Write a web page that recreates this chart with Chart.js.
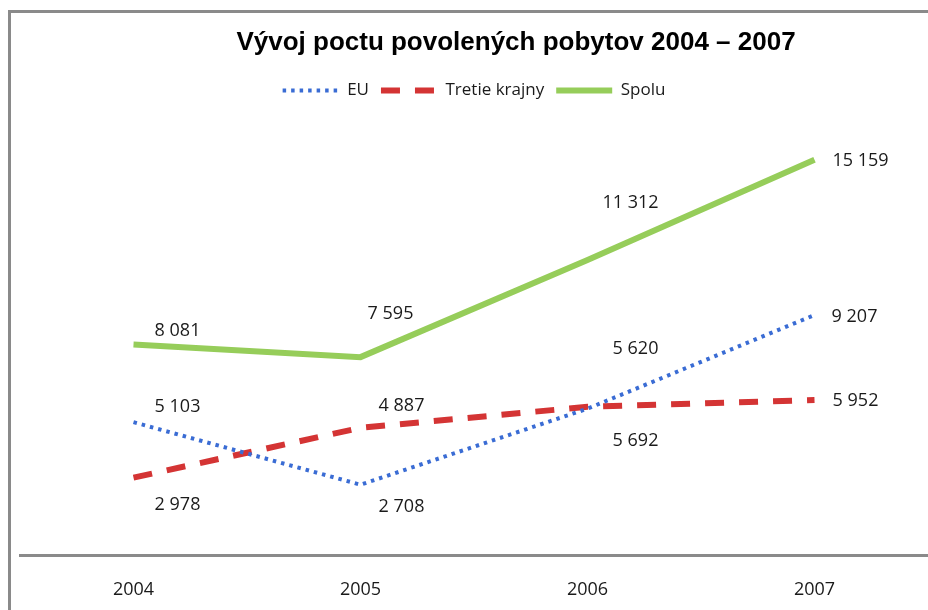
<!DOCTYPE html>
<html>
<head>
<meta charset="utf-8">
<script src="https://cdn.jsdelivr.net/npm/chart.js@4/dist/chart.umd.min.js"></script>
<style>
  html, body { margin: 0; padding: 0; background: #fff; overflow: hidden; }
  #wrap { position: relative; width: 928px; height: 610px; }
  canvas { display: block; }
</style>
</head>
<body>
<div id="wrap"><canvas id="c" width="928" height="610"></canvas></div>
<script>
// ---- data ----
const categories = ['2004', '2005', '2006', '2007'];
const seriesNames = ['EU', 'Tretie krajny', 'Spolu'];
const euValues = [5103, 2708, 5620, 9207];
const tretieValues = [2978, 4887, 5692, 5952];
const spoluValues = [8081, 7595, 11312, 15159];
const titleText = 'Vývoj poctu povolených pobytov 2004 – 2007';

// ---- label placement (offsets from point, px) ----
const euLabelOffsets = [[44, -15], [41, 22], [48, -60], [40, 2]];
const tretieLabelOffsets = [[44, 27], [41, -22], [48, 34], [41, 1]];
const spoluLabelOffsets = [[44, -14], [30, -43], [43, -57], [46, 1]];

function fmt(v) {
  return String(v).replace(/\B(?=(\d{3})+(?!\d))/g, ' ');
}

const frameAndTitle = {
  id: 'frameAndTitle',
  beforeDraw(chart) {
    const ctx = chart.ctx;
    ctx.save();
    ctx.fillStyle = '#ffffff';
    ctx.fillRect(0, 0, chart.width, chart.height);
    ctx.strokeStyle = '#8a8a8a';
    ctx.lineWidth = 3;
    ctx.strokeRect(9.5, 11.5, 1000, 1000);
    ctx.fillStyle = '#000000';
    ctx.font = 'bold 26px "Liberation Sans", Arial, sans-serif';
    ctx.textAlign = 'center';
    ctx.textBaseline = 'alphabetic';
    ctx.fillText(titleText, 516, 50);
    ctx.restore();
  }
};

// draws the dashed/dotted line samples at the legend's own item positions
const legendSamples = {
  id: 'legendSamples',
  afterDraw(chart) {
    const legend = chart.legend;
    if (!legend || !legend.legendHitBoxes) return;
    const ctx = chart.ctx;
    const boxW = legend.options.labels.boxWidth;
    ctx.save();
    legend.legendHitBoxes.forEach((hb, i) => {
      const ds = chart.data.datasets[i];
      const y = hb.top + hb.height / 2;
      ctx.beginPath();
      ctx.strokeStyle = ds.borderColor;
      ctx.lineWidth = ds.borderWidth;
      ctx.setLineDash(ds.borderDash || []);
      ctx.moveTo(hb.left, y);
      ctx.lineTo(hb.left + boxW, y);
      ctx.stroke();
    });
    ctx.restore();
  }
};

const valueLabels = {
  id: 'valueLabels',
  afterDatasetsDraw(chart) {
    const ctx = chart.ctx;
    ctx.save();
    ctx.font = '18px "Open Sans", sans-serif';
    ctx.fillStyle = '#1a1a1a';
    ctx.textAlign = 'center';
    ctx.textBaseline = 'middle';
    chart.data.datasets.forEach((ds, di) => {
      const meta = chart.getDatasetMeta(di);
      meta.data.forEach((pt, i) => {
        const off = ds.labelOffsets[i];
        ctx.fillText(fmt(ds.data[i]), pt.x + off[0], pt.y + off[1]);
      });
    });
    ctx.restore();
  }
};

new Chart(document.getElementById('c'), {
  type: 'line',
  data: {
    labels: categories,
    datasets: [
      {
        label: seriesNames[0],
        data: euValues,
        labelOffsets: euLabelOffsets,
        borderColor: '#3a6cd4',
        backgroundColor: '#3a6cd4',
        borderWidth: 4,
        borderDash: [3.5, 5],
        pointRadius: 0,
        tension: 0
      },
      {
        label: seriesNames[1],
        data: tretieValues,
        labelOffsets: tretieLabelOffsets,
        borderColor: '#d43434',
        backgroundColor: '#d43434',
        borderWidth: 6,
        borderDash: [19, 15],
        pointRadius: 0,
        tension: 0
      },
      {
        label: seriesNames[2],
        data: spoluValues,
        labelOffsets: spoluLabelOffsets,
        borderColor: '#96cd5a',
        backgroundColor: '#96cd5a',
        borderWidth: 6,
        pointRadius: 0,
        tension: 0
      }
    ]
  },
  options: {
    responsive: false,
    animation: false,
    layout: { padding: { top: 70, left: 20, right: 0, bottom: -15 } },
    plugins: {
      title: { display: false },
      tooltip: { enabled: false },
      legend: {
        display: true,
        position: 'top',
        labels: {
          boxWidth: 56,
          boxHeight: 6,
          padding: 12,
          color: '#1a1a1a',
          font: { family: '"Open Sans", sans-serif', size: 17 },
          generateLabels(chart) {
            const items = Chart.defaults.plugins.legend.labels.generateLabels(chart);
            items.forEach(it => {
              it.fillStyle = 'rgba(0,0,0,0)';
              it.strokeStyle = 'rgba(0,0,0,0)';
              it.lineWidth = 0;
            });
            return items;
          }
        }
      }
    },
    scales: {
      x: {
        offset: true,
        grid: { display: false, drawTicks: false },
        border: { display: true, color: '#8a8a8a', width: 3 },
        ticks: {
          color: '#1a1a1a',
          padding: 24,
          font: { family: '"Open Sans", sans-serif', size: 18 }
        }
      },
      y: {
        display: false,
        min: 0,
        max: 17100
      }
    }
  },
  plugins: [frameAndTitle, legendSamples, valueLabels]
});
</script>
</body>
</html>
